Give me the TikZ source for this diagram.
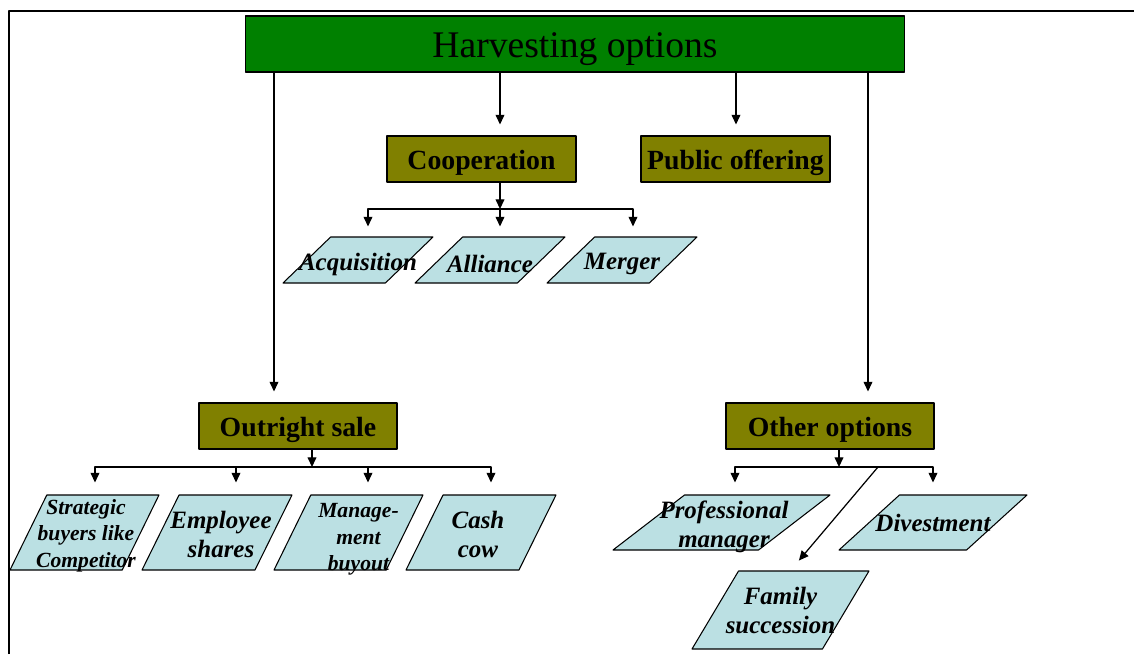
\documentclass[tikz,border=0pt]{standalone}
\usepackage{fontspec}
\setmainfont{Liberation Serif}
\usepackage{xcolor}
\usetikzlibrary{arrows.meta,shapes.geometric}
\definecolor{harvgreen}{RGB}{0,128,0}
\definecolor{boxolive}{RGB}{128,128,0}
\definecolor{parafill}{RGB}{187,224,227}

\begin{document}
\begin{tikzpicture}[x=0.02cm,y=-0.02cm,>={Triangle[length=5.5pt,width=5pt]},line join=round,
  topbox/.style={draw=black,line width=0.6pt,fill=harvgreen,minimum width=13.2cm,minimum height=1.12cm,inner sep=0pt,text height=15.8pt,text depth=0pt,font=\fontsize{21.4}{24}\selectfont},
  catbox/.style={draw=black,line width=0.6pt,fill=boxolive,minimum height=0.92cm,inner sep=0pt,text height=11.6pt,text depth=0pt,font=\bfseries\fontsize{15.8}{18}\selectfont},
  para/.style 2 args={trapezium,trapezium stretches=true,trapezium left angle=#1,trapezium right angle=#2,draw=black,line width=0.6pt,fill=parafill,inner sep=0.5pt},
  paratext/.style={align=center,inner sep=0pt,font=\bfseries\itshape\fontsize{14.2}{16.5}\selectfont},
  smalltext/.style={align=center,inner sep=0pt,font=\bfseries\itshape\fontsize{12.3}{15}\selectfont},
  conn/.style={->,line width=0.7pt}]
  \useasboundingbox (0,0) rectangle (1134,654);
  % frame
  \draw[line width=1.1pt] (9,654) -- (9,11) -- (1134,11);
  % boxes
  \node[topbox] (harvest) at (575,44) {Harvesting options};
  \node[catbox,minimum width=3.78cm] (coop) at (481.5,159) {Cooperation};
  \node[catbox,minimum width=3.78cm] (pub) at (735.5,159) {Public offering};
  \node[catbox,minimum width=3.96cm] (sale) at (298,426) {Outright sale};
  \node[catbox,minimum width=4.16cm] (other) at (830,426) {Other options};
  % cooperation forms
  \node[para={49}{131},minimum width=3cm,minimum height=0.92cm] (acq) at (358,260) {};
  \node[para={49}{131},minimum width=3cm,minimum height=0.92cm] (alli) at (490,260) {};
  \node[para={49}{131},minimum width=3cm,minimum height=0.92cm] (merg) at (622,260) {};
  \node[paratext] (acqT) at ([yshift=-0.08cm]acq) {Acquisition};
  \node[paratext] (alliT) at ([yshift=-0.08cm]alli) {Alliance};
  \node[paratext] (mergT) at ([yshift=-0.08cm]merg) {Merger};
  % sale forms
  \node[para={64}{116},minimum width=2.98cm,minimum height=1.5cm] (strat) at (84.5,532.5) {};
  \node[para={64}{116},minimum width=3cm,minimum height=1.5cm] (empl) at (217,532.5) {};
  \node[para={64}{116},minimum width=2.98cm,minimum height=1.5cm] (mgmt) at (348.5,532.5) {};
  \node[para={64}{116},minimum width=3cm,minimum height=1.5cm] (cash) at (481,532.5) {};
  \node[smalltext] (stratT) at ([xshift=0.03cm,yshift=-0.06cm]strat) {Strategic\\buyers like\\Competitor};
  \node[paratext] (emplT) at ([xshift=0.08cm,yshift=-0.04cm]empl) {Employee\\shares};
  \node[smalltext] (mgmtT) at ([xshift=0.2cm,yshift=-0.14cm]mgmt) {Manage-\\ment\\buyout};
  \node[paratext] (cashT) at ([xshift=-0.06cm,yshift=-0.04cm]cash) {Cash\\cow};
  % other forms
  \node[para={46}{134},minimum width=4.34cm,minimum height=1.1cm] (prof) at (721.5,522.5) {};
  \node[para={48}{132},minimum width=3.76cm,minimum height=1.1cm] (dive) at (933,522.5) {};
  \node[para={61}{119},minimum width=3.54cm,minimum height=1.56cm] (fam) at (780.5,610) {};
  \node[paratext] (profT) at ([xshift=0.05cm,yshift=-0.08cm]prof) {Professional\\manager};
  \node[paratext] (diveT) at (dive) {Divestment};
  \node[paratext] (famT) at (fam) {Family\\succession};
  % drops from the top box
  \coordinate (dropSale) at (274,0);
  \coordinate (dropCoop) at (500,0);
  \coordinate (dropPub) at (736,0);
  \coordinate (dropOther) at (868,0);
  \draw[conn,shorten >=0.22cm] (harvest.south -| dropSale) -- (sale.north -| dropSale);
  \draw[conn,shorten >=0.22cm] (harvest.south -| dropCoop) -- (coop.north -| dropCoop);
  \draw[conn,shorten >=0.22cm] (harvest.south -| dropPub) -- (pub.north -| dropPub);
  \draw[conn,shorten >=0.22cm] (harvest.south -| dropOther) -- (other.north -| dropOther);
  % cooperation branches
  \coordinate (coopBar) at (500,209);
  \draw[conn] (coop.south -| coopBar) -- (coopBar);
  \draw[conn,shorten >=0.2cm] (coopBar) -| ([xshift=0.2cm]acq.north);
  \draw[conn,shorten >=0.2cm] (coopBar) -| ([xshift=0.2cm]alli.north);
  \draw[conn,shorten >=0.2cm] (coopBar) -| ([xshift=0.22cm]merg.north);
  % sale branches
  \coordinate (saleBar) at (312,467);
  \draw[conn] (sale.south -| saleBar) -- (saleBar);
  \draw[conn,shorten >=0.24cm] (saleBar) -| ([xshift=0.21cm]strat.north);
  \draw[conn,shorten >=0.24cm] (saleBar) -| ([xshift=0.38cm]empl.north);
  \draw[conn,shorten >=0.24cm] (saleBar) -| ([xshift=0.39cm]mgmt.north);
  \draw[conn,shorten >=0.24cm] (saleBar) -| ([xshift=0.2cm]cash.north);
  % other branches
  \coordinate (otherBar) at (839,467);
  \draw[conn] (other.south -| otherBar) -- (otherBar);
  \draw[conn,shorten >=0.24cm] (otherBar) -| ([xshift=0.27cm]prof.north);
  \draw[conn,shorten >=0.24cm] (otherBar) -| (dive.north);
  \draw[conn,shorten >=0.26cm] ([xshift=0.78cm]otherBar) -- ([xshift=0.2cm]fam.north);
\end{tikzpicture}
\end{document}
